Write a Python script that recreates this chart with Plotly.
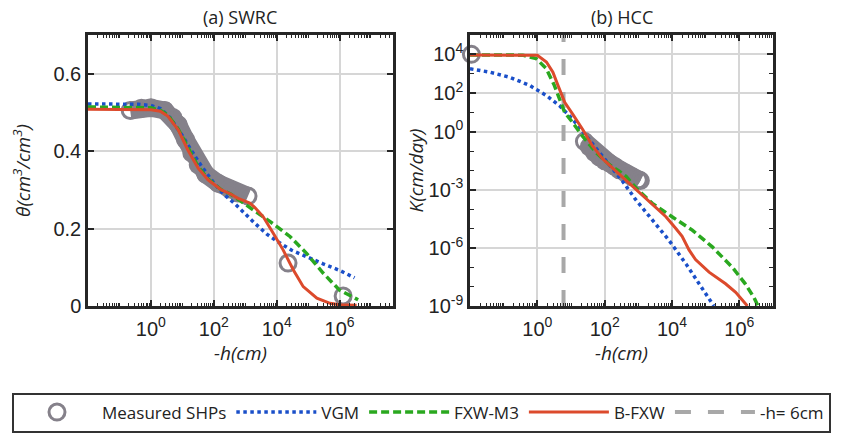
import plotly.graph_objects as go

# ---------------- (a) SWRC : water content vs suction ----------------
swrc_meas_h = [0.22, 0.5, 1, 2.75, 5, 7.4, 12.6, 20, 32, 56, 138, 316, 590, 1230]
swrc_meas_theta = [0.505, 0.511, 0.512, 0.505, 0.487, 0.468, 0.43, 0.395, 0.365, 0.34,
                   0.317, 0.302, 0.292, 0.284]
swrc_pts_h = [2.3e4, 1.3e6]
swrc_pts_theta = [0.111, 0.026]

swrc_vgm_h = [0.01, 0.1, 0.4, 1, 2, 4, 10, 20, 40, 100, 200, 500, 1000, 2000, 5000,
              1e4, 3e4, 1e5, 3e5, 1e6, 3e6]
swrc_vgm_theta = [0.522, 0.522, 0.521, 0.518, 0.510, 0.487, 0.440, 0.400, 0.362, 0.318,
                  0.290, 0.262, 0.237, 0.214, 0.185, 0.168, 0.144, 0.125, 0.109, 0.092, 0.073]

swrc_fxw_h = [0.01, 0.1, 1, 2, 3.5, 7.4, 15, 32, 66, 174, 330, 590, 1400, 6200,
              2.7e4, 8.9e4, 3e5, 1e6, 3.9e6]
swrc_fxw_theta = [0.514, 0.514, 0.512, 0.505, 0.493, 0.457, 0.41, 0.36, 0.328, 0.30,
                  0.29, 0.276, 0.255, 0.218, 0.179, 0.136, 0.085, 0.041, 0.016]

swrc_bfxw_h = [0.01, 0.1, 1, 2, 3.5, 7.4, 15, 32, 66, 174, 330, 590, 1400, 2000, 3700,
               7800, 1.6e4, 3.4e4, 7e4, 1.9e5, 5e5, 1e6, 3.5e6]
swrc_bfxw_theta = [0.508, 0.508, 0.507, 0.503, 0.49, 0.455, 0.403, 0.356, 0.326, 0.30,
                   0.29, 0.278, 0.266, 0.255, 0.231, 0.188, 0.145, 0.093, 0.05, 0.02,
                   0.007, 0.003, 0.002]

# ---------------- (b) HCC : conductivity vs suction ----------------
hcc_meas_h = [25, 35, 50, 70, 100, 140, 200, 270, 430, 650, 1000, 1150]
hcc_meas_k = [0.32, 0.17, 0.085, 0.05, 0.032, 0.024, 0.016, 0.011, 7.1e-3, 4.8e-3,
              3.3e-3, 3.0e-3]
hcc_pts_h = [0.011]
hcc_pts_k = [1.0e4]

hcc_vgm_h = [0.01, 0.039, 0.15, 0.59, 1.86, 4.6, 11.2, 28, 87, 270, 340, 850, 2600,
             8100, 2.6e4, 6.3e4, 1.6e5, 1.75e5]
hcc_vgm_k = [1.8e3, 1.2e3, 6.6e2, 2.5e2, 74, 22, 4.5, 0.6, 5.5e-2, 4.5e-3, 2.8e-3,
             3.0e-4, 2.8e-5, 2.5e-6, 1.5e-7, 1.4e-8, 1.3e-9, 1.0e-9]

hcc_fxw_h = [0.01, 0.1, 0.37, 0.93, 1.86, 3.2, 4.6, 6.5, 11.2, 22, 56, 138, 270, 430,
             850, 2600, 1e4, 4e4, 1.6e5, 6.2e5, 1.5e6, 2.7e6, 3.6e6]
hcc_fxw_k = [9.3e3, 9.3e3, 9.1e3, 6.0e3, 1.8e3, 2.5e2, 49, 10, 3.0, 0.6, 8.3e-2, 2.0e-2,
             9.1e-3, 5.0e-3, 1.26e-3, 2.0e-4, 4.1e-5, 8.3e-6, 1.1e-6, 1.0e-7, 1.4e-8,
             2.8e-9, 1.0e-9]

hcc_bfxw_h = [0.01, 0.1, 1, 1.86, 2.9, 4.1, 5.75, 6.5, 11.2, 22, 44, 87, 220, 540, 2100,
              6600, 1.3e4, 2e4, 3.2e4, 5e4, 1.26e5, 3.9e5, 7.8e5, 1.74e6]
hcc_bfxw_k = [9.3e3, 9.3e3, 8.9e3, 4.0e3, 1.2e3, 2.5e2, 49, 33, 8.1, 1.35, 0.18, 4.0e-2,
              9.1e-3, 2.2e-3, 2.5e-4, 4.1e-5, 1.0e-5, 4.0e-6, 7.9e-7, 2.5e-7, 5.6e-8,
              1.4e-8, 5.1e-9, 1.0e-9]

ref_h = [6, 6]
ref_k = [1e-9, 1e5]

# tick labels
swrc_xticks = [1, 1e2, 1e4, 1e6]
swrc_xticktext = ["10<sup>0</sup>", "10<sup>2</sup>", "10<sup>4</sup>", "10<sup>6</sup>"]
swrc_yticks = [0, 0.2, 0.4, 0.6]
swrc_yticktext = ["0", "0.2", "0.4", "0.6"]
hcc_yticks = [1e-9, 1e-6, 1e-3, 1, 1e2, 1e4]
hcc_yticktext = ["10<sup>-9</sup>", "10<sup>-6</sup>", "10<sup>-3</sup>", "10<sup>0</sup>",
                 "10<sup>2</sup>", "10<sup>4</sup>"]

# styles
GRAY = "#85818a"
BLUE = "#1a4fc9"
GREEN = "#2aa81f"
RED = "#dc4a2c"
REFC = "#a8a8a8"
FRAME = "#262626"
TEXT_FONT = "Open Sans"
TICK_FONT = "Liberation Sans"

fig = go.Figure()


def add_panel(xa, ya, meas_h, meas_v, pts_h, pts_v, vgm, fxw, bfxw, legend):
    fig.add_trace(go.Scatter(x=meas_h, y=meas_v, mode="lines", xaxis=xa, yaxis=ya,
                             line=dict(color=GRAY, width=18), showlegend=False,
                             legendgroup="meas", hoverinfo="skip"))
    fig.add_trace(go.Scatter(x=list(meas_h) + list(pts_h), y=list(meas_v) + list(pts_v),
                             mode="markers", xaxis=xa, yaxis=ya, name="Measured SHPs",
                             legendgroup="meas", showlegend=legend, cliponaxis=False,
                             marker=dict(symbol="circle-open", size=16, color=GRAY,
                                         line=dict(width=3, color=GRAY))))
    fig.add_trace(go.Scatter(x=vgm[0], y=vgm[1], mode="lines", xaxis=xa, yaxis=ya,
                             name="VGM", legendgroup="vgm", showlegend=legend,
                             line=dict(color=BLUE, width=3.5, dash="dot")))
    fig.add_trace(go.Scatter(x=fxw[0], y=fxw[1], mode="lines", xaxis=xa, yaxis=ya,
                             name="FXW-M3", legendgroup="fxw", showlegend=legend,
                             line=dict(color=GREEN, width=3.5, dash="8px,4px")))
    fig.add_trace(go.Scatter(x=bfxw[0], y=bfxw[1], mode="lines", xaxis=xa, yaxis=ya,
                             name="B-FXW", legendgroup="bfxw", showlegend=legend,
                             line=dict(color=RED, width=3)))


add_panel("x", "y", swrc_meas_h, swrc_meas_theta, swrc_pts_h, swrc_pts_theta,
          (swrc_vgm_h, swrc_vgm_theta), (swrc_fxw_h, swrc_fxw_theta),
          (swrc_bfxw_h, swrc_bfxw_theta), True)

fig.add_trace(go.Scatter(x=ref_h, y=ref_k, mode="lines", xaxis="x2", yaxis="y2",
                         name="-h= 6cm", legendrank=1001,
                         line=dict(color=REFC, width=4, dash="16px,17px")))

add_panel("x2", "y2", hcc_meas_h, hcc_meas_k, hcc_pts_h, hcc_pts_k,
          (hcc_vgm_h, hcc_vgm_k), (hcc_fxw_h, hcc_fxw_k),
          (hcc_bfxw_h, hcc_bfxw_k), False)

W, H = 851, 433


def log_minor(lo, hi, digits=range(1, 10)):
    vals = []
    for e in range(lo, hi + 1):
        for d in digits:
            vals.append(d * 10.0 ** e)
    return vals


axis_common = dict(showline=True, linewidth=2.5, linecolor=FRAME, mirror="allticks",
                   ticks="inside", ticklen=6, tickwidth=1.5, tickcolor=FRAME,
                   showgrid=True, gridcolor="#d6d6d6", gridwidth=1.5, zeroline=False,
                   tickfont=dict(family=TICK_FONT, size=20, color="#222222"),
                   tickmode="array")

xdom_a = [88 / W, 393 / W]
xdom_b = [470 / W, 773 / W]
ydom = [1 - 306 / H, 1 - 35 / H]

xtitle = dict(text="<i>-h(cm)</i>", font=dict(family=TEXT_FONT, size=19, color="#222222"),
              standoff=0)

fig.update_layout(
    width=W, height=H, margin=dict(l=0, r=0, t=0, b=0, autoexpand=False),
    paper_bgcolor="white", plot_bgcolor="white",
    xaxis=dict(axis_common, type="log", domain=xdom_a, range=[-2, 7.7], anchor="y",
               tickvals=swrc_xticks, ticktext=swrc_xticktext, title=xtitle,
               ticklabelstandoff=3,
               minor=dict(ticks="inside", ticklen=3, tickwidth=1, tickcolor=FRAME,
                          tickvals=log_minor(-2, 7), showgrid=False)),
    yaxis=dict(axis_common, domain=ydom, range=[0, 0.7], anchor="x",
               tickvals=swrc_yticks, ticktext=swrc_yticktext,
               title=dict(text="<i>θ(cm<sup>3</sup>/cm<sup>3</sup>)</i>",
                          font=dict(family=TEXT_FONT, size=19, color="#222222"),
                          standoff=18)),
    xaxis2=dict(axis_common, type="log", domain=xdom_b, range=[-2, 7], anchor="y2",
                tickvals=swrc_xticks, ticktext=swrc_xticktext, title=xtitle,
                ticklabelstandoff=3,
                minor=dict(ticks="inside", ticklen=3, tickwidth=1, tickcolor=FRAME,
                           tickvals=log_minor(-2, 6), showgrid=False)),
    yaxis2=dict(axis_common, type="log", domain=ydom, range=[-9, 5], anchor="x2",
                tickvals=hcc_yticks, ticktext=hcc_yticktext,
                minor=dict(ticks="inside", ticklen=4, tickwidth=1, tickcolor=FRAME,
                           tickvals=log_minor(-9, 5, [1]), showgrid=False),
                title=dict(text="<i>K(cm/day)</i>",
                           font=dict(family=TEXT_FONT, size=19, color="#222222"),
                           standoff=0)),
    legend=dict(orientation="h", x=12 / W, xanchor="left", y=1 - 412.5 / H,
                yanchor="middle", bordercolor="#333333", borderwidth=2, bgcolor="white",
                font=dict(family=TEXT_FONT, size=17, color="#222222"),
                itemwidth=80, tracegroupgap=0),
    annotations=[
        dict(text="(a) SWRC", x=(xdom_a[0] + xdom_a[1]) / 2, y=1 - 17 / H, xref="paper",
             yref="paper", showarrow=False, xanchor="center", yanchor="middle",
             font=dict(family=TEXT_FONT, size=18, color="#222222")),
        dict(text="(b) HCC", x=(xdom_b[0] + xdom_b[1]) / 2, y=1 - 17 / H, xref="paper",
             yref="paper", showarrow=False, xanchor="center", yanchor="middle",
             font=dict(family=TEXT_FONT, size=18, color="#222222")),
    ],
)

fig.write_html("out.html")
